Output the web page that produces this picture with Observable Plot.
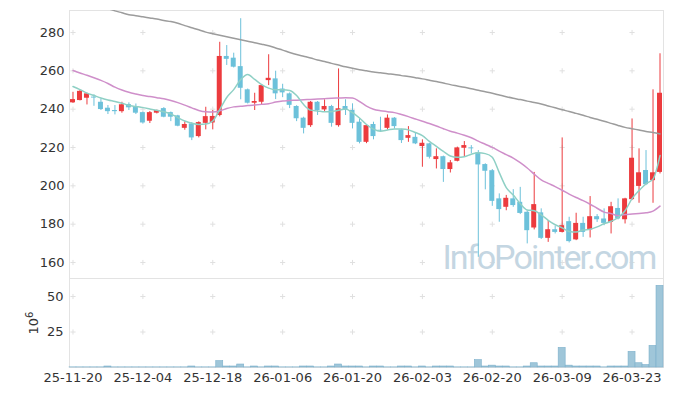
<!DOCTYPE html>
<html>
<head>
<meta charset="utf-8">
<script src="https://cdn.jsdelivr.net/npm/d3@7"></script>
<script src="https://cdn.jsdelivr.net/npm/@observablehq/plot@0.6"></script>
<style>
  html, body { margin: 0; padding: 0; background: #fff; }
  #chart { width: 673px; height: 396px; position: relative; }
  #chart svg { display: block; }
</style>
</head>
<body>
<div id="chart"></div>
<script>
const dates = ["25-11-20","25-11-21","25-11-24","25-11-25","25-11-26","25-11-27","25-11-28","25-12-01","25-12-02","25-12-03",
"25-12-04","25-12-05","25-12-08","25-12-09","25-12-10","25-12-11","25-12-12","25-12-15","25-12-16","25-12-17",
"25-12-18","25-12-19","25-12-22","25-12-23","25-12-24","25-12-26","25-12-29","25-12-30","26-01-02","26-01-05",
"26-01-06","26-01-07","26-01-08","26-01-09","26-01-12","26-01-13","26-01-14","26-01-15","26-01-16","26-01-19",
"26-01-20","26-01-21","26-01-22","26-01-23","26-01-26","26-01-27","26-01-28","26-01-29","26-01-30","26-02-02",
"26-02-03","26-02-04","26-02-05","26-02-06","26-02-09","26-02-10","26-02-11","26-02-12","26-02-13","26-02-19",
"26-02-20","26-02-23","26-02-24","26-02-25","26-02-26","26-02-27","26-03-03","26-03-04","26-03-05","26-03-06",
"26-03-09","26-03-10","26-03-11","26-03-12","26-03-13","26-03-16","26-03-17","26-03-18","26-03-19","26-03-20",
"26-03-23","26-03-24","26-03-25","26-03-26","26-03-27"];

const open = [243.3,244.5,245.7,246.3,243.6,240.5,239.3,238.7,242.4,241.4,
238.2,233.7,237.9,240.3,238.2,236.5,230.0,232.3,225.7,232.6,
232.8,236.7,267.5,266.6,262.2,250.1,243.1,243.6,254.9,255.8,
250.5,248.0,241.4,235.3,231.4,243.6,239.6,241.4,231.4,241.4,
239.3,233.2,222.7,232.0,229.0,230.0,235.3,229.2,224.8,225.3,
220.5,221.9,213.7,215.2,208.5,212.8,219.6,219.8,217.2,211.1,
207.9,193.2,188.8,193.2,191.4,186.2,178.0,185.9,172.6,177.1,
175.7,181.3,171.8,180.4,177.0,183.9,182.7,180.9,188.2,182.3,
192.8,199.7,208.0,202.7,207.0];
const high = [248.8,250.0,248.3,247.5,245.4,241.9,241.9,243.6,243.3,242.7,
238.5,238.8,239.5,240.8,238.5,236.8,233.4,233.0,233.4,241.0,
239.3,274.9,273.2,269.2,287.2,250.5,248.3,252.8,268.4,259.8,
253.0,248.5,241.8,235.8,244.0,244.0,244.9,242.0,261.0,244.9,
242.8,234.9,231.8,233.2,235.8,237.0,235.6,229.5,230.9,227.4,
224.0,222.2,219.3,215.5,213.2,220.2,223.1,221.0,218.4,211.5,
208.5,195.8,195.0,198.0,199.2,187.0,207.0,188.0,181.8,178.9,
225.0,183.6,185.7,183.6,194.4,185.0,188.0,191.4,193.2,193.5,
234.9,219.3,218.4,250.1,268.9];
const low = [243.0,244.3,242.2,241.5,239.3,237.2,237.0,237.9,239.3,237.2,
232.2,232.5,237.5,235.5,233.5,230.8,229.0,223.6,225.0,229.2,
229.2,236.0,262.8,261.5,244.9,242.7,239.3,242.4,252.3,245.0,
246.0,240.3,233.5,227.1,230.5,236.7,238.4,230.6,230.6,236.7,
229.7,221.9,222.0,224.0,228.3,229.2,229.6,222.1,222.7,221.5,
209.7,214.0,208.8,201.8,206.7,212.5,214.9,216.7,162.7,197.9,
189.3,181.0,187.0,188.8,185.0,169.7,177.0,172.0,170.5,174.9,
175.4,170.2,171.4,173.1,172.8,180.9,179.2,174.9,182.2,180.1,
192.3,190.9,200.1,190.9,206.2];
const close = [245.0,249.3,248.0,245.8,239.8,238.7,238.7,242.3,240.7,237.9,
232.8,238.2,239.3,235.8,235.8,231.1,232.0,225.0,233.0,236.1,
236.2,267.5,266.0,261.9,250.9,243.1,244.0,252.3,256.1,248.0,
248.5,242.0,235.0,230.0,243.6,239.3,241.4,232.6,240.2,239.3,
232.6,222.7,231.4,225.7,228.6,235.3,230.9,223.6,226.2,221.9,
222.2,214.9,215.2,208.5,212.0,219.8,221.0,219.3,210.9,207.6,
191.9,187.6,193.5,189.7,185.6,176.6,190.2,172.6,177.1,175.7,
179.2,170.9,180.4,175.7,183.9,182.3,180.4,189.1,182.7,193.2,
214.4,206.8,200.6,206.8,248.3];
// volume, in millions of shares
const volume = [0.1,0.1,0.1,0.1,0.1,0.7,0.1,0.1,0.1,0.1,
0.1,0.1,0.1,0.1,0.1,0.1,0.1,0.7,0.1,0.1,
0.1,4.5,0.7,0.7,2.1,0.1,0.7,0.1,0.7,0.7,
0.1,0.1,0.1,0.7,0.7,0.1,0.1,0.7,2.1,0.7,
0.7,0.7,0.1,0.7,0.7,0.1,0.1,0.7,0.7,0.1,
0.7,0.1,0.7,0.7,0.7,0.1,0.1,0.1,5.2,0.7,
1.3,0.7,0.7,0.1,0.1,0.7,3.0,0.7,0.7,0.7,
13.8,1.3,0.7,0.7,0.7,0.7,0.1,0.7,0.7,0.7,
11.0,3.0,1.7,15.2,57.5];
const ma5 = [251.8,250.2,248.4,247.1,245.8,244.8,244.0,243.1,242.0,241.4,
240.8,240.1,239.4,238.6,237.5,235.6,233.8,232.6,232.0,232.2,
233.8,239.8,246.1,250.2,255.5,258.1,255.5,252.8,251.0,250.1,
250.1,249.7,247.1,242.4,239.5,239.1,238.6,238.7,239.4,240.1,
238.2,235.4,232.0,229.6,228.5,229.1,229.7,229.6,229.2,227.8,
226.2,223.2,220.6,218.0,215.6,214.9,215.2,216.5,217.2,216.8,
214.9,206.9,199.1,195.2,190.7,187.4,187.0,184.9,182.0,179.7,
178.1,176.2,175.9,176.9,177.3,178.6,180.2,181.5,183.4,187.0,
193.3,197.5,201.1,203.5,215.8];
const ma20 = [260.2,258.9,257.7,256.4,255.0,253.4,251.5,250.0,248.8,247.9,
247.1,246.6,246.0,245.4,244.5,243.4,242.1,240.7,239.3,238.6,
238.5,239.1,240.3,241.2,241.5,241.9,242.2,242.5,242.8,243.7,
244.3,244.5,244.7,244.9,245.1,245.3,245.5,245.7,245.8,245.9,
245.8,244.0,241.6,240.0,239.2,238.7,238.2,237.2,236.1,234.9,
233.7,232.5,231.2,229.8,228.5,227.5,226.4,225.1,223.3,221.7,
220.1,218.1,216.3,214.5,212.1,209.3,206.1,203.1,201.3,199.6,
197.7,195.7,193.9,192.3,190.4,188.3,186.3,185.5,184.4,185.0,
185.3,185.6,185.9,186.8,189.4];
const ma60 = [298.3,297.1,296.0,294.8,293.6,292.5,291.3,290.3,289.3,288.8,
288.2,287.6,287.0,286.3,285.7,284.8,283.6,282.5,281.4,280.2,
279.4,278.6,277.8,277.0,276.2,275.4,274.6,273.9,273.1,271.9,
270.8,269.6,268.5,267.6,266.7,265.7,264.9,263.9,263.0,262.1,
261.3,260.6,260.0,259.4,259.0,258.5,258.1,257.5,257.0,256.4,
255.8,255.1,254.4,253.6,252.8,252.1,251.4,250.6,249.9,249.1,
248.3,247.4,246.5,245.7,245.0,244.2,243.5,242.7,241.7,240.7,
239.7,238.8,237.8,236.8,235.7,234.7,233.7,232.6,231.5,230.5,
229.8,229.1,228.4,227.8,227.1];

const priceTicks = [160, 180, 200, 220, 240, 260, 280];
const volumeTicks = [25, 50];
const xTickLabels = dates.filter((d, i) => i % 10 === 0);
const watermark = "InfoPointer.com";
const volumeUnitBase = "10", volumeUnitExp = "6";

const UP = "#ec3b3e", DOWN = "#6cc1da";
const rows = dates.map((d, i) => ({
  date: d, open: open[i], high: high[i], low: low[i], close: close[i],
  volume: volume[i], ma5: ma5[i], ma20: ma20[i], ma60: ma60[i],
  color: close[i] >= open[i] ? UP : DOWN
}));

const priceGrid = xTickLabels.flatMap(x => priceTicks.map(y => ({x, y})));
const volGrid = xTickLabels.flatMap(x => volumeTicks.map(y => ({x, y})));

const font = {fontFamily: "DejaVu Sans, sans-serif", fontSize: "13px", color: "#333", background: "#fff", overflow: "visible"};

const pricePlot = Plot.plot({
  width: 673, height: 278,
  marginTop: 10, marginBottom: 0, marginLeft: 69, marginRight: 10,
  style: font,
  x: {type: "band", domain: dates, padding: 0, axis: null},
  y: {domain: [151.65, 291.48], axis: null},
  color: {type: "identity"},
  marks: [
    Plot.frame({stroke: "#e3e3e3"}),
    Plot.dot(priceGrid, {x: "x", y: "y", symbol: "plus", r: 1.8, stroke: "#e0e0e0", strokeWidth: 1}),
    Plot.text([watermark], {frameAnchor: "bottom-right", text: d => d, dx: -8, dy: -10,
      lineAnchor: "bottom", textAnchor: "end", fontSize: 34, fill: "#c4d6e2",
      fontFamily: "Roboto, sans-serif"}),
    Plot.ruleX(rows, {x: "date", y1: "low", y2: "high", stroke: "color", strokeWidth: 1}),
    Plot.barY(rows, {x: "date", y1: "open", y2: "close", fill: "color", insetLeft: 1, insetRight: 1}),
    Plot.line(rows, {x: "date", y: "ma60", stroke: "#9c9c9c", strokeWidth: 1.5, curve: "monotone-x", clip: true}),
    Plot.line(rows, {x: "date", y: "ma20", stroke: "#cf8fca", strokeWidth: 1.5, curve: "monotone-x", clip: true}),
    Plot.line(rows, {x: "date", y: "ma5", stroke: "#8fd0c5", strokeWidth: 1.5, curve: "monotone-x", clip: true}),
    Plot.axisY({ticks: priceTicks, tickSize: 0, tickPadding: 5, label: null, fontSize: 13})
  ]
});

const volumePlot = Plot.plot({
  width: 673, height: 118,
  marginTop: 0, marginBottom: 29, marginLeft: 69, marginRight: 10,
  style: font,
  x: {type: "band", domain: dates, padding: 0},
  y: {domain: [0, 62.68]},
  marks: [
    Plot.frame({stroke: "#e3e3e3"}),
    Plot.dot(volGrid, {x: "x", y: "y", symbol: "plus", r: 1.8, stroke: "#e0e0e0", strokeWidth: 1}),
    Plot.barY(rows, {x: "date", y: "volume", fill: "#9fc6d9", stroke: "#7cb0cb", strokeWidth: 0.6}),
    Plot.axisX({ticks: xTickLabels, tickSize: 0, tickPadding: 5, label: null, fontSize: 13}),
    Plot.axisY({ticks: volumeTicks, tickSize: 0, tickPadding: 6, label: volumeUnitBase + volumeUnitExp,
      labelAnchor: "center", labelArrow: "none", labelOffset: 41, fontSize: 13})
  ]
});

const host = document.getElementById("chart");
host.append(pricePlot, volumePlot);

d3.select(pricePlot).selectAll("text").filter(function () { return this.textContent === watermark; })
  .style("letter-spacing", "-1.9px");

// render the volume unit as 10 with a raised 6
d3.select(volumePlot).selectAll("text").filter(function () {
  return this.textContent === volumeUnitBase + volumeUnitExp && this.getAttribute("transform") && /rotate/.test(this.getAttribute("transform"));
}).each(function () {
  const t = d3.select(this);
  t.text(null);
  t.append("tspan").text(volumeUnitBase);
  t.append("tspan").attr("dy", "-0.45em").attr("font-size", "10px").text(volumeUnitExp);
});
</script>
</body>
</html>
